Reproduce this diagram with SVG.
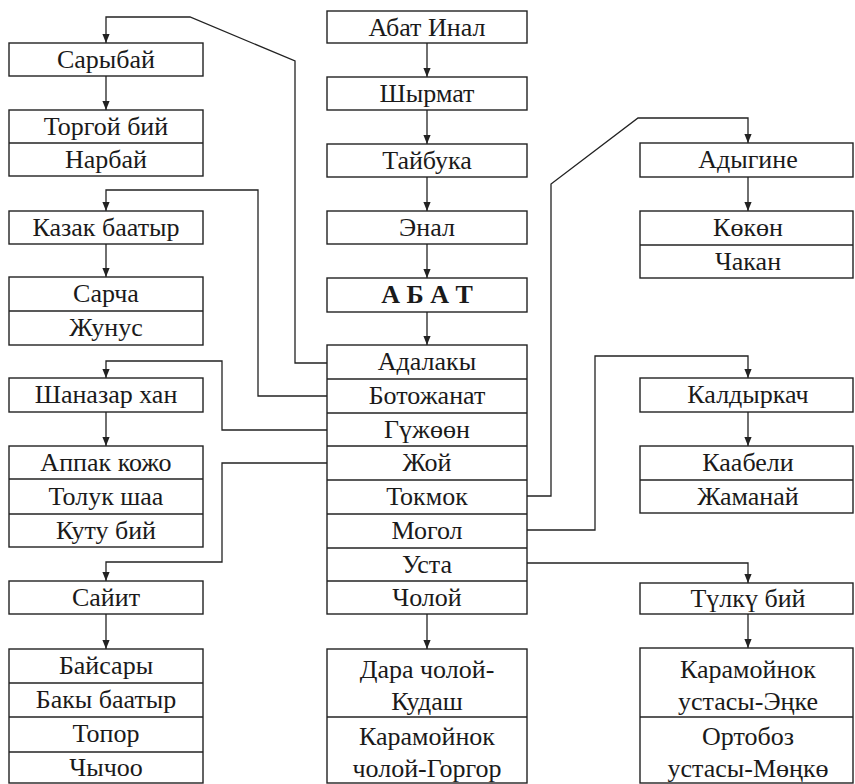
<svg xmlns="http://www.w3.org/2000/svg" width="855" height="784" viewBox="0 0 855 784">
<style>
rect{fill:#fff;stroke:#222;stroke-width:1.4}
.d{stroke:#222;stroke-width:1.4}
text{font-family:'Liberation Serif','DejaVu Serif',serif;font-size:26px;fill:#1a1a1a;text-anchor:middle}
.c path{fill:none;stroke:#222;stroke-width:1.3}
</style>
<defs>
<marker id="a" viewBox="0 0 10 10" refX="10" refY="5" markerWidth="9" markerHeight="9" markerUnits="userSpaceOnUse" orient="auto">
<path d="M0,1 L10,5 L0,9 z" fill="#222"/>
</marker>
</defs>
<rect width="855" height="784" style="fill:#fff;stroke:none"/>
<g class="c">
<path d="M427,43 V77" marker-end="url(#a)"/>
<path d="M427,110 V144" marker-end="url(#a)"/>
<path d="M427,177 V211" marker-end="url(#a)"/>
<path d="M427,244 V278" marker-end="url(#a)"/>
<path d="M427,312 V345" marker-end="url(#a)"/>
<path d="M427,614 V649" marker-end="url(#a)"/>
<path d="M106,76 V110" marker-end="url(#a)"/>
<path d="M106,244 V277" marker-end="url(#a)"/>
<path d="M106,412 V446" marker-end="url(#a)"/>
<path d="M106,614 V649" marker-end="url(#a)"/>
<path d="M748,177 V211" marker-end="url(#a)"/>
<path d="M748,412 V446" marker-end="url(#a)"/>
<path d="M748,614 V648" marker-end="url(#a)"/>
<path d="M327,363 H295 V61 L190,17 H106 V43" marker-end="url(#a)"/>
<path d="M327,396 H258 V190 H106 V211" marker-end="url(#a)"/>
<path d="M327,430 H222 V361 H106 V378" marker-end="url(#a)"/>
<path d="M327,463 H222 V562 H106 V581" marker-end="url(#a)"/>
<path d="M527,496 H551 V184 L638,118 H748 V143" marker-end="url(#a)"/>
<path d="M527,530 H595 V356 H748 V378" marker-end="url(#a)"/>
<path d="M527,563 H748 V583" marker-end="url(#a)"/>
</g>
<g id="sarybai"><rect x="9" y="43" width="194" height="33"/><text x="106" y="68">Сарыбай</text></g>
<g id="torgoi"><rect x="9" y="110" width="194" height="66"/><line class="d" x1="9" y1="143" x2="203" y2="143"/><text x="106" y="135">Торгой бий</text><text x="106" y="168">Нарбай</text></g>
<g id="kazak"><rect x="9" y="211" width="194" height="33"/><text x="106" y="236">Казак баатыр</text></g>
<g id="sarcha"><rect x="9" y="277" width="194" height="68"/><line class="d" x1="9" y1="311" x2="203" y2="311"/><text x="106" y="302">Сарча</text><text x="106" y="336">Жунус</text></g>
<g id="shanazar"><rect x="9" y="378" width="194" height="34"/><text x="106" y="403">Шаназар хан</text></g>
<g id="appak"><rect x="9" y="446" width="194" height="101"/><line class="d" x1="9" y1="479" x2="203" y2="479"/><line class="d" x1="9" y1="514" x2="203" y2="514"/><text x="106" y="471">Аппак кожо</text><text x="106" y="505">Толук шаа</text><text x="106" y="539">Куту бий</text></g>
<g id="saiit"><rect x="9" y="581" width="194" height="33"/><text x="106" y="606">Сайит</text></g>
<g id="baisary"><rect x="9" y="649" width="194" height="134"/><line class="d" x1="9" y1="683" x2="203" y2="683"/><line class="d" x1="9" y1="717" x2="203" y2="717"/><line class="d" x1="9" y1="752" x2="203" y2="752"/><text x="106" y="674">Байсары</text><text x="106" y="708">Бакы баатыр</text><text x="106" y="742">Топор</text><text x="106" y="776">Чычоо</text></g>
<g id="abatinal"><rect x="327" y="11" width="200" height="32"/><text x="427" y="36">Абат Инал</text></g>
<g id="shyrmat"><rect x="327" y="77" width="200" height="33"/><text x="427" y="102">Шырмат</text></g>
<g id="taibuka"><rect x="327" y="144" width="200" height="33"/><text x="427" y="169">Тайбука</text></g>
<g id="enal"><rect x="327" y="211" width="200" height="33"/><text x="427" y="236">Энал</text></g>
<g id="abat"><rect x="327" y="278" width="200" height="34"/><text x="427" y="303" font-weight="bold">А Б А Т</text></g>
<g id="sons"><rect x="327" y="345" width="200" height="269"/>
<line class="d" x1="327" y1="379" x2="527" y2="379"/><line class="d" x1="327" y1="413" x2="527" y2="413"/><line class="d" x1="327" y1="446" x2="527" y2="446"/><line class="d" x1="327" y1="480" x2="527" y2="480"/><line class="d" x1="327" y1="514" x2="527" y2="514"/><line class="d" x1="327" y1="548" x2="527" y2="548"/><line class="d" x1="327" y1="581" x2="527" y2="581"/>
<text x="427" y="370">Адалакы</text><text x="427" y="404">Ботожанат</text><text x="427" y="438">Гүжөөн</text><text x="427" y="471">Жой</text><text x="427" y="505">Токмок</text><text x="427" y="539">Могол</text><text x="427" y="573">Уста</text><text x="427" y="606">Чолой</text></g>
<g id="dara"><rect x="327" y="649" width="200" height="134"/><line class="d" x1="327" y1="717" x2="527" y2="717"/><text x="427" y="678">Дара чолой-</text><text x="427" y="710">Кудаш</text><text x="427" y="745">Карамойнок</text><text x="427" y="777">чолой-Горгор</text></g>
<g id="adygine"><rect x="640" y="143" width="213" height="34"/><text x="748" y="168">Адыгине</text></g>
<g id="kokon"><rect x="640" y="211" width="213" height="67"/><line class="d" x1="640" y1="245" x2="853" y2="245"/><text x="748" y="236">Көкөн</text><text x="748" y="270">Чакан</text></g>
<g id="kaldyrkach"><rect x="640" y="378" width="213" height="34"/><text x="748" y="403">Калдыркач</text></g>
<g id="kaabeli"><rect x="640" y="446" width="213" height="67"/><line class="d" x1="640" y1="480" x2="853" y2="480"/><text x="748" y="471">Каабели</text><text x="748" y="505">Жаманай</text></g>
<g id="tulku"><rect x="640" y="583" width="213" height="31"/><text x="748" y="607">Түлкү бий</text></g>
<g id="karamoinok"><rect x="640" y="648" width="213" height="135"/><line class="d" x1="640" y1="717" x2="853" y2="717"/><text x="748" y="678">Карамойнок</text><text x="748" y="710">устасы-Эңке</text><text x="748" y="745">Ортобоз</text><text x="748" y="777">устасы-Мөңкө</text></g>
</svg>
